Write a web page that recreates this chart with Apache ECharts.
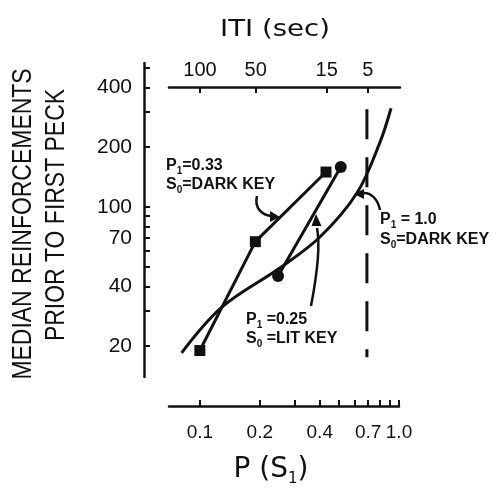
<!DOCTYPE html>
<html><head><meta charset="utf-8">
<script src="https://cdn.jsdelivr.net/npm/echarts@6/dist/echarts.min.js"></script>
<style>html,body{margin:0;padding:0;background:#fff}#c{width:496px;height:488px}</style>
</head><body><div id="c"></div>
<script>
// ---- data ----
const darkKey033 = [[0.1, 19], [0.19, 67], [0.43, 150]];          // P1=0.33, S0=DARK KEY (squares)
const litKey025  = [[0.247, 45], [0.51, 159]];                     // P1=0.25, S0=LIT KEY (circles)
const darkKey10  = [[0.081, 18.5], [0.129, 31.4], [0.252, 49.4], [0.401, 70.7],
                    [0.615, 117.6], [0.803, 212], [0.912, 314]];   // P1=1.0 curve
const dashedMark = [[0.69, 310], [0.69, 17.6]];                    // vertical dashed line
const pTicks  = [0.1, 0.2, 0.3, 0.4, 0.5, 0.6, 0.7, 0.8, 0.9, 1.0];
const pLabels = [0.1, 0.2, 0.4, 0.7, 1.0];
const yTicks  = [20, 30, 40, 50, 60, 70, 80, 90, 100, 200, 300, 400, 500];
const yLabels = [20, 40, 70, 100, 200, 400];
const itiTickPos = [0.1, 0.19, 0.43, 0.69];
const itiLabels  = ['100', '50', '15', '5'];

const INK = '#111';
const FONT = 'Liberation Sans, Arial, sans-serif';
const axLine = { show: true, onZero: false, lineStyle: { color: INK, width: 2.5 } };
const chart = echarts.init(document.getElementById('c'), null, { renderer: 'canvas' });

function subLabel(main, sub, rest, x, y) {
  return {
    type: 'text', x: x, y: y, z: 10,
    style: {
      text: '{b|' + main + '}{s|' + sub + '}{b|' + rest + '}',
      align: 'left', verticalAlign: 'top',
      rich: {
        b: { fontSize: 16, fontWeight: 'bold', fontFamily: FONT, fill: INK, color: INK, lineHeight: 20 },
        s: { fontSize: 10, fontWeight: 'bold', fontFamily: FONT, fill: INK, color: INK, lineHeight: 10, verticalAlign: 'bottom' }
      }
    }
  };
}
function arrow(p0, c1, c2, p1, tip, b1, b2) {
  return [
    { type: 'bezierCurve', z: 10, shape: { x1: p0[0], y1: p0[1], cpx1: c1[0], cpy1: c1[1], cpx2: c2[0], cpy2: c2[1], x2: p1[0], y2: p1[1] },
      style: { stroke: INK, lineWidth: 2.5, fill: null } },
    { type: 'polygon', z: 10, shape: { points: [tip, b1, b2] }, style: { fill: INK } }
  ];
}

const option = {
  animation: false,
  backgroundColor: '#fff',
  grid: [
    { left: 169, width: 230, top: 63, height: 343, outerBoundsMode: 'none', containLabel: false },
    { left: 169, width: 230, top: 63, height: 314, outerBoundsMode: 'none', containLabel: false },
    { left: 169, width: 231, top: 87, height: 100, outerBoundsMode: 'none', containLabel: false }
  ],
  xAxis: [
    { gridIndex: 0, type: 'log', min: 0.07, max: 1.0, position: 'bottom',
      axisLine: axLine,
      axisTick: { show: true, inside: true, length: 6, customValues: pTicks, lineStyle: { color: INK, width: 2 } },
      axisLabel: { show: true, customValues: pLabels, formatter: v => Number(v).toFixed(1), margin: 17,
                   fontSize: 19, color: INK, fontFamily: FONT },
      splitLine: { show: false }, minorTick: { show: false } },
    { gridIndex: 1, type: 'log', min: 0.07, max: 1.0, show: false },
    { gridIndex: 2, type: 'log', min: 0.07, max: 1.0, position: 'top',
      axisLine: axLine,
      axisTick: { show: true, inside: true, length: 6, customValues: itiTickPos, lineStyle: { color: INK, width: 2 } },
      axisLabel: { show: true, customValues: itiTickPos, margin: 7, fontSize: 20, color: INK, fontFamily: FONT,
                   formatter: v => { let bi = 0, bd = 1e9; itiTickPos.forEach((t, i) => { const d = Math.abs(Math.log(t / v)); if (d < bd) { bd = d; bi = i; } }); return itiLabels[bi]; } },
      splitLine: { show: false } }
  ],
  yAxis: [
    { gridIndex: 0, type: 'log', min: 10, max: 530, show: false },
    { gridIndex: 1, type: 'log', min: 14, max: 530, position: 'left', offset: 25,
      axisLine: axLine,
      axisTick: { show: true, inside: true, length: 6, customValues: yTicks, lineStyle: { color: INK, width: 2 } },
      axisLabel: { show: true, customValues: yLabels, margin: 12, fontSize: 21, color: INK, fontFamily: FONT },
      splitLine: { show: false } },
    { gridIndex: 2, type: 'log', min: 10, max: 530, show: false }
  ],
  series: [
    { type: 'line', xAxisIndex: 0, yAxisIndex: 0, data: darkKey033, symbol: 'rect', symbolSize: 11,
      lineStyle: { color: INK, width: 3 }, itemStyle: { color: INK }, clip: false, z: 3 },
    { type: 'line', xAxisIndex: 0, yAxisIndex: 0, data: litKey025, symbol: 'circle', symbolSize: 12,
      lineStyle: { color: INK, width: 3 }, itemStyle: { color: INK }, clip: false, z: 3 },
    { type: 'line', xAxisIndex: 0, yAxisIndex: 0, data: darkKey10, symbol: 'none', smooth: 0.35,
      lineStyle: { color: INK, width: 3 }, clip: false, z: 2 },
    { type: 'line', xAxisIndex: 0, yAxisIndex: 0, data: dashedMark, symbol: 'none',
      lineStyle: { color: INK, width: 3, type: [30, 18] }, clip: false, z: 2 }
  ],
  graphic: [
    { type: 'text', x: 275, y: 30, scaleX: 1.2, style: { text: 'ITI (sec)', font: '23px DejaVu Sans, sans-serif', fill: INK, align: 'center', verticalAlign: 'middle' } },
    { type: 'text', x: 271, y: 470, style: {
        text: '{a|P (S}{s|1}{a|)}', align: 'center', verticalAlign: 'middle',
        rich: { a: { fontSize: 28, fontFamily: 'DejaVu Sans, sans-serif', fill: INK, color: INK, lineHeight: 34 },
                s: { fontSize: 15, fontFamily: 'DejaVu Sans, sans-serif', fill: INK, color: INK, lineHeight: 15, verticalAlign: 'bottom' } } } },
    { type: 'text', x: 23, y: 224, rotation: Math.PI / 2, scaleX: 0.82,
      style: { text: 'MEDIAN REINFORCEMENTS', font: '28px Liberation Sans, Arial, sans-serif', fill: INK, align: 'center', verticalAlign: 'middle' } },
    { type: 'text', x: 56, y: 215, rotation: Math.PI / 2, scaleX: 0.82,
      style: { text: 'PRIOR TO FIRST PECK', font: '28px Liberation Sans, Arial, sans-serif', fill: INK, align: 'center', verticalAlign: 'middle' } },
    subLabel('P', '1', '=0.33', 166, 156),
    subLabel('S', '0', '=DARK KEY', 166, 175),
    subLabel('P', '1', ' =0.25', 246, 310),
    subLabel('S', '0', ' =LIT KEY', 246, 329),
    subLabel('P', '1', ' = 1.0', 380, 210),
    subLabel('S', '0', '=DARK KEY', 380, 230),
    ...arrow([257, 196], [254, 208], [262, 215], [271, 216], [280, 217], [270, 211], [270, 222]),
    ...arrow([311, 306], [316, 280], [321, 248], [317, 228], [316, 214], [311.5, 226], [321.5, 226]),
    ...arrow([380, 210], [378, 200], [372, 193], [364, 193], [354, 194], [364, 189], [364, 199])
  ]
};
chart.setOption(option);
</script>
</body></html>
